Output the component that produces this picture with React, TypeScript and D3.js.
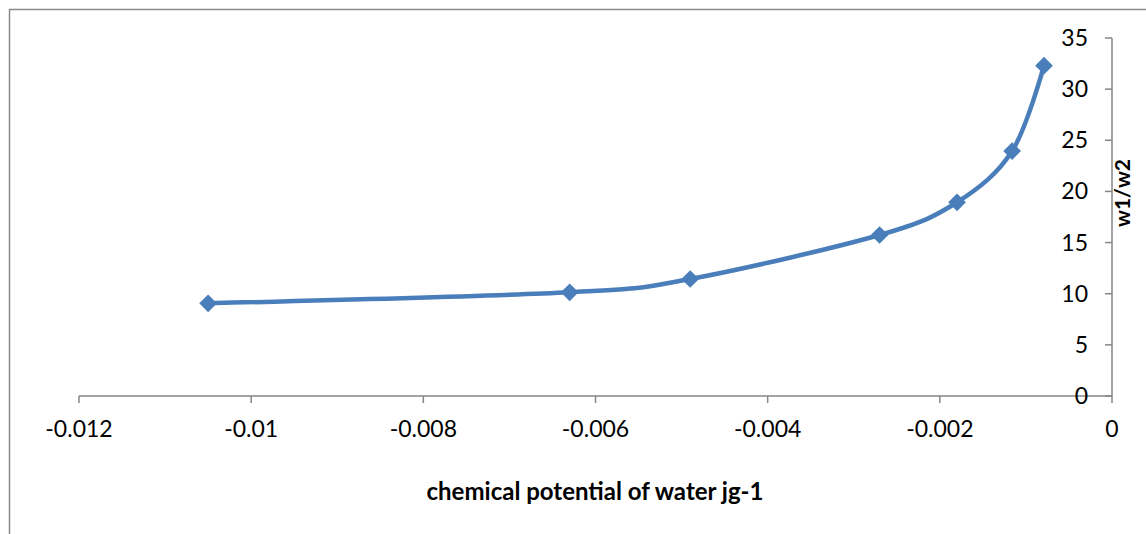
import React from "react";
import * as d3 from "d3";

// Chemical potential of water (J g-1) vs. moisture ratio w1/w2
const potential = [-0.0105, -0.0063, -0.0049, -0.0027, -0.0018, -0.00116, -0.00079];
const ratio = [9.06, 10.14, 11.44, 15.74, 18.94, 23.95, 32.29];

const xTicks = [-0.012, -0.01, -0.008, -0.006, -0.004, -0.002, 0];
const yTicks = [0, 5, 10, 15, 20, 25, 30, 35];

const xTitle = "chemical potential of water jg-1";
const yTitle = "w1/w2";

const W = 1146;
const H = 534;
const FONT = "Lato, 'Open Sans', sans-serif";
const AXIS = "#868686";
const BLUE = "#4a7ebb";

export default function App() {
  const x = d3.scaleLinear().domain([-0.012, 0]).range([79, 1112]);
  const y = d3.scaleLinear().domain([0, 35]).range([396, 38]);

  const pts: [number, number][] = potential.map((v, i) => [x(v), y(ratio[i])]);
  const line = d3.line().curve(d3.curveCardinal.tension(0))(pts) || "";
  const diamond = d3.symbol().type(d3.symbolDiamond2).size(200)() || "";

  const fmt = (v: number) => (v === 0 ? "0" : String(v));

  return (
    <svg
      width={W}
      height={H}
      style={{ position: "absolute", left: 0, top: 0, background: "#fff" }}
    >
      <rect x={9.5} y={9.5} width={1200} height={600} fill="#fff" stroke="#8a8a8a" strokeWidth={1.5} />

      {/* x axis */}
      <line x1={x(-0.012)} x2={x(0)} y1={y(0)} y2={y(0)} stroke={AXIS} strokeWidth={1.5} />
      {xTicks.map((t) => (
        <g key={"x" + t}>
          <line x1={x(t)} x2={x(t)} y1={y(0)} y2={y(0) + 7} stroke={AXIS} strokeWidth={1.5} />
          <text
            x={x(t)}
            y={437}
            textAnchor="middle"
            fontFamily={FONT}
            fontSize={23}
            fill="#000"
          >
            {fmt(t)}
          </text>
        </g>
      ))}

      {/* y axis */}
      <line x1={x(0)} x2={x(0)} y1={y(0)} y2={y(35)} stroke={AXIS} strokeWidth={1.5} />
      {yTicks.map((t) => (
        <g key={"y" + t}>
          <line x1={x(0) - 7} x2={x(0)} y1={y(t)} y2={y(t)} stroke={AXIS} strokeWidth={1.5} />
          <text
            x={1088}
            y={y(t)}
            dy="0.35em"
            textAnchor="end"
            fontFamily={FONT}
            fontSize={23}
            fill="#000"
          >
            {t}
          </text>
        </g>
      ))}

      {/* series */}
      <path d={line} fill="none" stroke={BLUE} strokeWidth={4.5} strokeLinejoin="round" strokeLinecap="round" />
      {pts.map(([px, py], i) => (
        <path key={i} d={diamond} transform={`translate(${px},${py})`} fill={BLUE} />
      ))}

      {/* titles */}
      <text
        x={595}
        y={500}
        textAnchor="middle"
        fontFamily={FONT}
        fontWeight="bold"
        fontSize={24}
        fill="#000"
      >
        {xTitle}
      </text>
      <text
        transform={`translate(1130,193) rotate(-90)`}
        textAnchor="middle"
        fontFamily={FONT}
        fontWeight="bold"
        fontSize={21}
        fill="#000"
      >
        {yTitle}
      </text>
    </svg>
  );
}
